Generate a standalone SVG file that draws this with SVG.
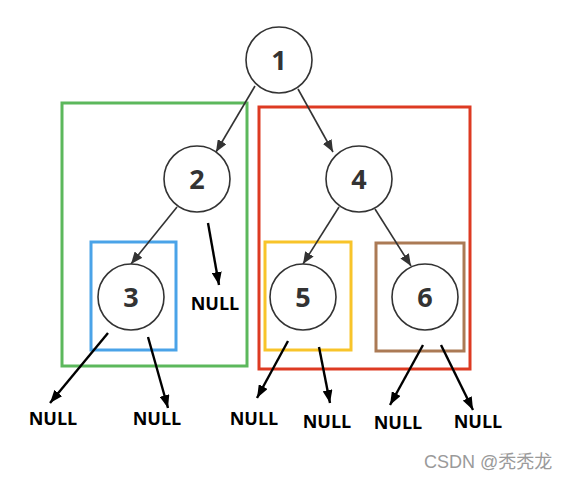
<svg xmlns="http://www.w3.org/2000/svg" width="571" height="481" viewBox="0 0 571 481">
<style>
.node circle{fill:#fff;stroke:#333;stroke-width:1.6}
.num{font-family:"Open Sans","DejaVu Sans",sans-serif;font-weight:bold;font-size:27px;fill:#333;text-anchor:middle}
.null{font-family:"Open Sans","DejaVu Sans",sans-serif;font-weight:bold;font-size:18px;fill:#000;text-anchor:middle}
.box{fill:none;stroke-width:3}
.edge{stroke:#333;stroke-width:1.6;fill:none;marker-end:url(#ah)}
.nedge{stroke:#000;stroke-width:2.4;fill:none;marker-end:url(#nh)}
.wm{font-family:"Liberation Sans","Noto Sans CJK SC",sans-serif;font-size:18px;fill:#9a9a9a}
</style>
<defs>
<marker id="ah" markerUnits="userSpaceOnUse" markerWidth="12" markerHeight="10" refX="12" refY="5" orient="auto" viewBox="0 0 12 10">
<path d="M0,0 L12,5 L0,10 Z" fill="#333"/>
</marker>
<marker id="nh" markerUnits="userSpaceOnUse" markerWidth="13" markerHeight="10" refX="13" refY="5" orient="auto" viewBox="0 0 13 10">
<path d="M0,0 L13,5 L0,10 Z" fill="#000"/>
</marker>
</defs>
<rect width="571" height="481" fill="#fff"/>

<g id="boxes">
<rect id="box-green" class="box" x="62" y="103" width="185" height="263" stroke="#5cb85c"/>
<rect id="box-red" class="box" x="259" y="107" width="211" height="262" stroke="#dd3a22"/>
<rect id="box-blue" class="box" x="91" y="242" width="85" height="108" stroke="#4aa3e8"/>
<rect id="box-yellow" class="box" x="265" y="242" width="86" height="108" stroke="#f8c42a"/>
<rect id="box-brown" class="box" x="376" y="243" width="88" height="108" stroke="#ab7a55"/>
</g>

<g id="connectors">
<line class="edge" x1="255" y1="86" x2="216" y2="152"/>
<line class="edge" x1="298" y1="89" x2="333" y2="152"/>
<line class="edge" x1="177" y1="207" x2="131" y2="264"/>
<line class="edge" x1="339" y1="207" x2="303" y2="264"/>
<line class="edge" x1="375" y1="209" x2="411" y2="266"/>
<line class="nedge" x1="208" y1="223" x2="219" y2="285"/>
<line class="nedge" x1="108" y1="333" x2="50" y2="403"/>
<line class="nedge" x1="148" y1="337" x2="168" y2="408"/>
<line class="nedge" x1="288" y1="341" x2="257" y2="398"/>
<line class="nedge" x1="319" y1="347" x2="330" y2="403"/>
<line class="nedge" x1="423" y1="345" x2="390" y2="405"/>
<line class="nedge" x1="441" y1="345" x2="473" y2="410"/>
</g>

<g id="node-1" class="node"><circle cx="279" cy="60" r="33"/><text class="num" x="279" y="70">1</text></g>
<g id="node-2" class="node"><circle cx="197" cy="179" r="33"/><text class="num" x="197" y="189">2</text></g>
<g id="node-4" class="node"><circle cx="359" cy="179" r="33"/><text class="num" x="359" y="189">4</text></g>
<g id="node-3" class="node"><circle cx="131" cy="297" r="33"/><text class="num" x="131" y="307">3</text></g>
<g id="node-5" class="node"><circle cx="303" cy="297" r="33"/><text class="num" x="303" y="307">5</text></g>
<g id="node-6" class="node"><circle cx="425" cy="297" r="33"/><text class="num" x="425" y="307">6</text></g>

<g id="nulls">
<text class="null" x="215" y="310">NULL</text>
<text class="null" x="53" y="425">NULL</text>
<text class="null" x="157" y="425">NULL</text>
<text class="null" x="254" y="425">NULL</text>
<text class="null" x="327" y="428">NULL</text>
<text class="null" x="398" y="429">NULL</text>
<text class="null" x="478" y="428">NULL</text>
</g>

<text class="wm" x="424" y="468">CSDN @秃秃龙</text>
</svg>
